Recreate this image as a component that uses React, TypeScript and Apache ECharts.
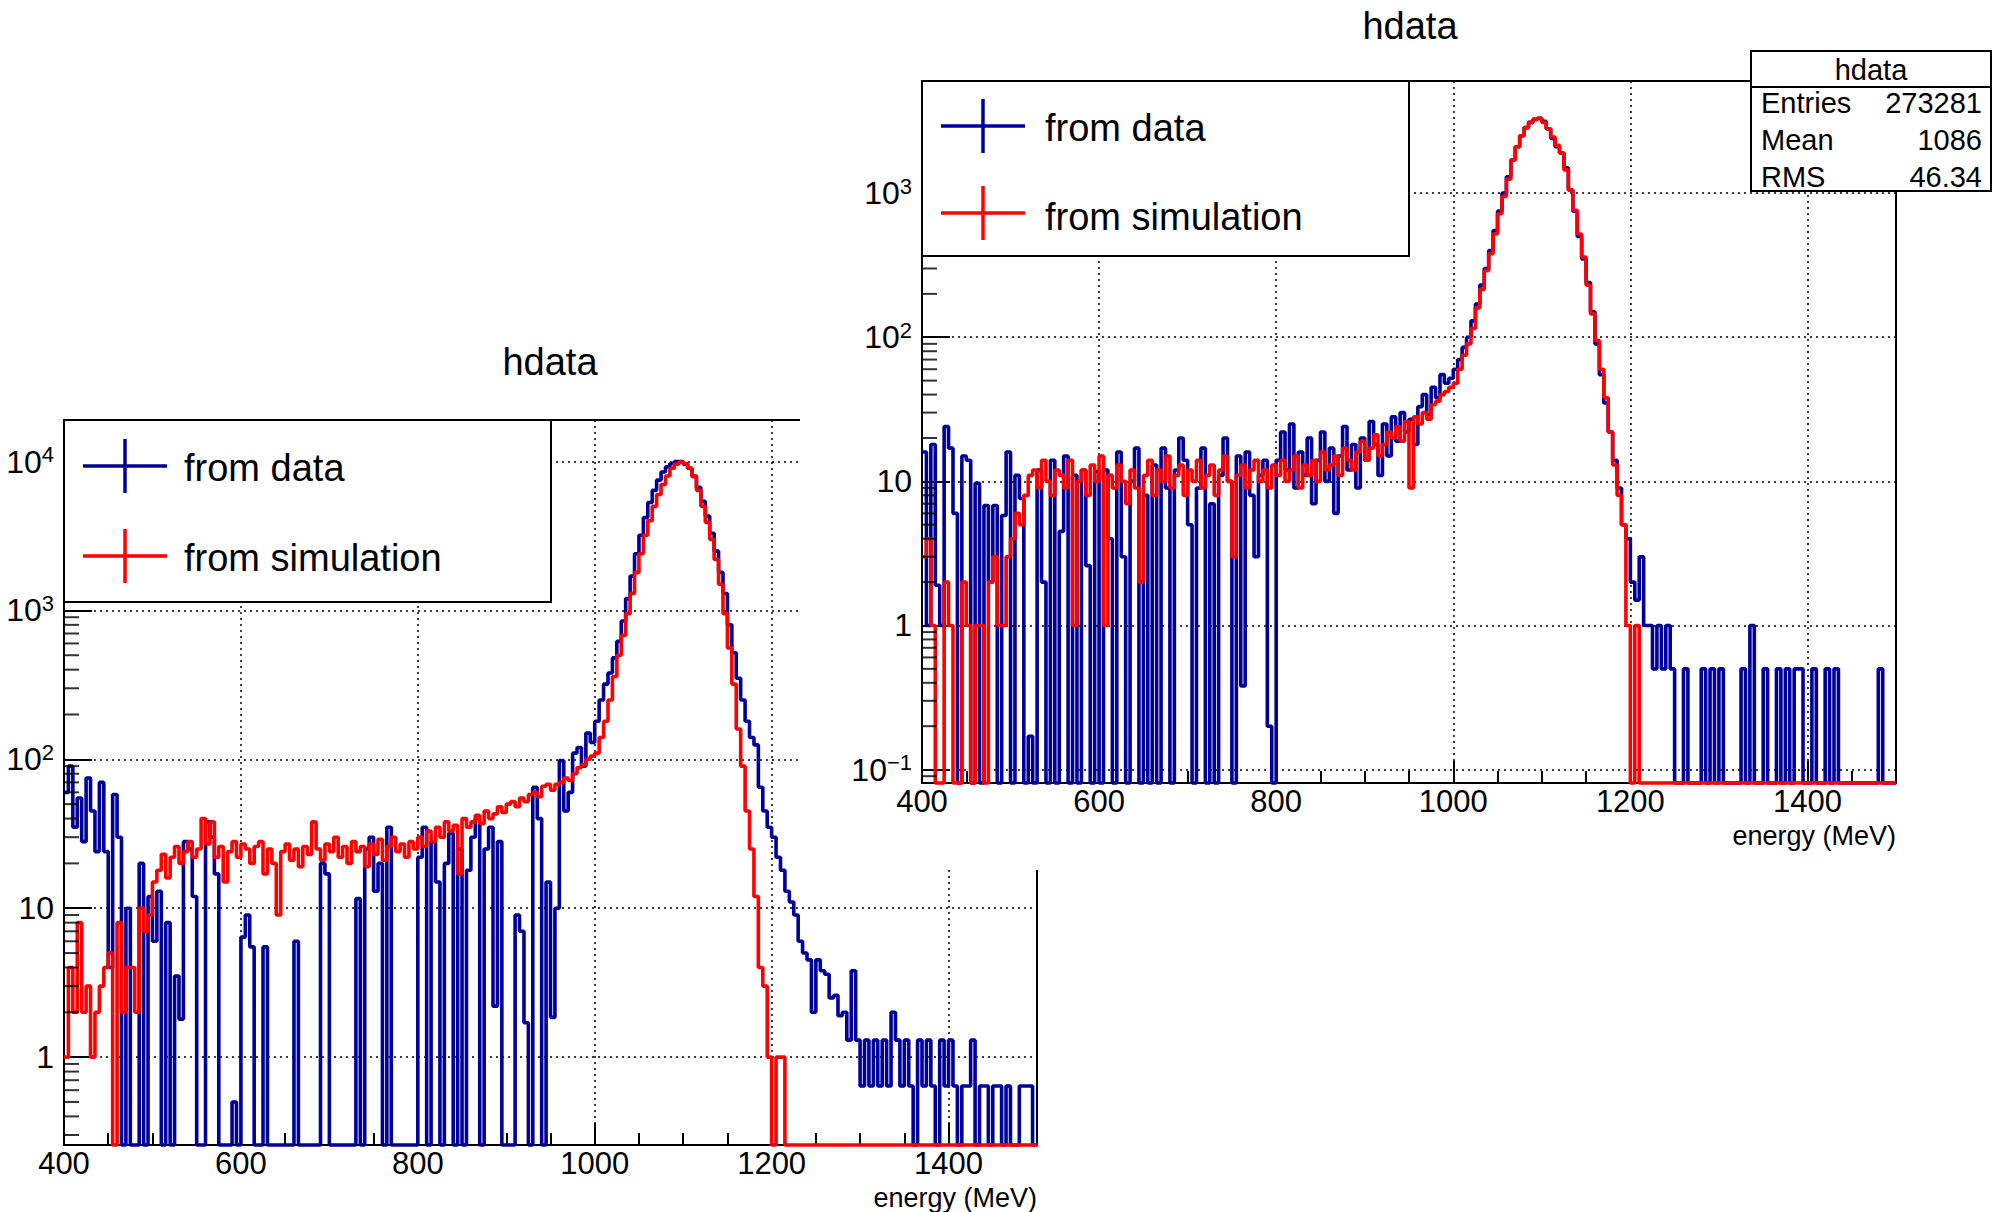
import React, { useEffect, useRef } from "react";
import * as echarts from "echarts";

// ---------------- data (5 MeV bins from 400 to 1500 MeV) ----------------
const BIN_START = 400;
const BIN_WIDTH = 5;
const X_MIN = 400;
const X_MAX = 1500;
const X_MAJOR = 200;
const X_MINOR = 50;

// left canvas: "from data"
const LEFT_DATA = [
  60, 90, 35, 55, 28, 75, 45, 24, 70, 24, 4, 58, 30, 0, 10, 0, 0, 20, 0, 12,
  6, 13, 0, 8, 0, 3.5, 1.8, 28, 25, 12, 0, 0, 38, 30, 17, 0, 0, 0, 0.5, 0,
  6.4, 9, 5.5, 0, 0, 5.5, 0, 0, 0, 0, 0, 0, 6, 0, 0, 0, 0, 0, 20, 17,
  0, 0, 0, 0, 0, 0, 11.6, 0, 25, 30, 13, 20, 0, 35, 0, 0, 0, 0, 0, 0,
  22, 35, 0, 28, 15, 0, 20, 32, 0, 25, 0, 18, 30, 40, 0, 25, 35, 2.2, 28, 0,
  0, 0, 9, 7, 1.7, 0, 65, 40, 0, 15, 1.85, 10, 98, 45, 60, 110, 120, 90, 150, 130,
  180, 250, 320, 380, 480, 620, 850, 1200, 1700, 2400, 3200, 4200, 5300, 6400, 7500, 8500, 9200, 9700, 10000, 10000,
  9600, 9000, 8000, 6700, 5400, 4300, 3300, 2500, 1800, 1300, 800, 520, 350, 250, 180, 140, 125, 65, 45, 35,
  30, 22, 18, 13, 11, 9, 6, 5, 4.5, 2, 4.5, 3.8, 3.6, 2.5, 2.6, 1.9, 2, 1.3, 3.8, 1.3,
  0.64, 1.3, 0.64, 1.3, 0.64, 1.3, 0.64, 2, 1.3, 0.64, 1.3, 0.64, 0, 1.3, 0.64, 1.3, 0.64, 0, 1.3, 0.64,
  1.3, 0.64, 0, 0.64, 0.64, 1.3, 0, 0.64, 0.64, 0, 0.64, 0.64, 0, 0.64, 0, 0, 0.64, 0.64, 0.64, 0,
];

// left canvas: "from simulation"
const LEFT_SIM = [
  1, 4, 2, 8, 2, 3, 1, 2, 3, 4, 5, 0, 8, 2, 4, 4, 2, 10, 7, 9,
  15, 18, 23, 16, 22, 26, 20, 24, 28, 22, 25, 40, 27, 38, 22, 26, 15, 24, 28, 22,
  27, 25, 20, 26, 28, 17, 25, 20, 9, 24, 27, 21, 25, 19, 26, 23, 38, 25, 21, 27,
  24, 30, 22, 26, 20, 28, 24, 26, 19, 27, 23, 29, 21, 26, 30, 24, 27, 22, 28, 25,
  30, 26, 33, 28, 35, 30, 38, 33, 36, 17, 40, 35, 38, 42, 37, 45, 40, 43, 48, 44,
  50, 52, 48, 55, 52, 58, 60, 56, 66, 68, 62, 68, 70, 75, 72, 80, 88, 92, 100, 105,
  110, 140, 180, 250, 360, 500, 680, 950, 1300, 1800, 2400, 3200, 4000, 5000, 6000, 7000, 8000, 9000, 9600, 9900,
  9700, 9000, 7900, 6400, 5000, 3900, 3000, 2200, 1500, 950, 560, 320, 160, 90, 45, 25, 12, 4, 3, 1,
  0, 1, 1, 0, 0, 0, 0, 0, 0, 0, 0, 0, 0, 0, 0, 0, 0, 0, 0, 0,
  0, 0, 0, 0, 0, 0, 0, 0, 0, 0, 0, 0, 0, 0, 0, 0, 0, 0, 0, 0,
  0, 0, 0, 0, 0, 0, 0, 0, 0, 0, 0, 0, 0, 0, 0, 0, 0, 0, 0, 0,
];

// right canvas: "from data"
const RIGHT_DATA = [
  16, 1, 18, 1.9, 1, 24, 17, 6, 0, 15, 14, 0, 9.7, 0, 6.8, 2, 6.8, 0, 5.8, 16,
  0, 11, 7.6, 0, 0.17, 0, 12, 2, 0, 14, 0, 4.5, 15, 0, 11, 0, 12, 2.6, 0, 11.7,
  0, 12, 4, 0, 16, 3, 0, 10, 17, 0, 8, 0, 13, 0, 17, 9, 0, 12, 20, 14,
  5, 0, 9, 17, 0, 7, 0, 11, 20, 10, 0, 15, 0.38, 16, 8, 3, 11, 14, 0.2, 0,
  14, 22, 12, 25, 9, 16, 11, 20, 7, 14, 22, 10, 17, 6, 15, 24, 12, 18, 9, 20,
  14, 26, 18, 11, 25, 15, 28, 19, 30, 22, 27, 18, 33, 40, 29, 45, 38, 55, 48, 52,
  60, 70, 85, 100, 130, 170, 230, 300, 400, 550, 750, 1000, 1300, 1700, 2100, 2500, 2850, 3100, 3250, 3300,
  3150, 2800, 2400, 2100, 1900, 1500, 1050, 750, 500, 350, 240, 150, 90, 55, 35, 22, 14, 9, 5, 4,
  2, 1.5, 3, 1, 1, 0.5, 1, 0.5, 1, 0.5, 0, 0, 0.5, 0, 0, 0, 0.5, 0, 0.5, 0,
  0.5, 0, 0, 0, 0, 0.5, 0, 1, 0, 0, 0.5, 0, 0, 0.5, 0, 0.5, 0, 0.5, 0.5, 0,
  0, 0.5, 0, 0, 0.5, 0, 0.5, 0, 0, 0, 0, 0, 0, 0, 0, 0, 0.5, 0, 0, 0,
];

// right canvas: "from simulation"
const RIGHT_SIM = [
  3, 4, 1, 0, 0, 2, 1, 0, 0, 2, 1, 0, 1, 1, 0, 2, 3, 1, 1, 3,
  4, 6, 5, 8, 11, 12, 9, 14, 10, 8, 12, 11, 9, 14, 1, 10, 12, 8, 13, 10,
  15, 1, 11, 9, 13, 10, 7, 12, 9, 2, 11, 14, 8, 12, 10, 15, 9, 11, 13, 8,
  12, 10, 14, 9, 11, 13, 8, 12, 15, 10, 3, 11, 13, 9, 12, 14, 10, 12, 9, 13,
  11, 14, 10, 12, 15, 9, 13, 11, 14, 10, 16, 12, 13, 15, 11, 17, 14, 12, 16, 19,
  14, 17, 21, 15, 18, 22, 20, 24, 19, 26, 9, 28, 25, 30, 27, 34, 36, 40, 42, 45,
  48, 60, 75, 90, 115, 160, 215, 290, 380, 520, 720, 950, 1250, 1700, 2100, 2500, 2850, 3100, 3250, 3300,
  3100, 2800, 2450, 2150, 1900, 1450, 1050, 760, 520, 360, 230, 145, 95, 60, 38, 22, 13, 8, 5, 1,
  0, 1, 0, 0, 0, 0, 0, 0, 0, 0, 0, 0, 0, 0, 0, 0, 0, 0, 0, 0,
  0, 0, 0, 0, 0, 0, 0, 0, 0, 0, 0, 0, 0, 0, 0, 0, 0, 0, 0, 0,
  0, 0, 0, 0, 0, 0, 0, 0, 0, 0, 0, 0, 0, 0, 0, 0, 0, 0, 0, 0,
];

const TITLE = "hdata";
const X_TITLE = "energy (MeV)";
const LEGEND_LABELS = ["from data", "from simulation"];
const STATS_TITLE = "hdata";
const STATS_NAMES = ["Entries", "Mean", "RMS"];
const STATS_VALUES = ["273281", "1086", "46.34"];
const MINOR_LOG = [2, 3, 4, 5, 6, 7, 8, 9];

// ---------------- styles ----------------
const FONT = '"Liberation Sans", Arial, Helvetica, sans-serif';
const BLUE = "#000099";
const RED = "#ff0000";
const BLACK = "#000000";
const HIST_WIDTH = 3.6;

function stepData(vals: number[], floor: number): number[][] {
  const pts: number[][] = [];
  for (let i = 0; i < vals.length; i++) {
    pts.push([BIN_START + i * BIN_WIDTH, vals[i] > 0 ? vals[i] : floor]);
  }
  const last = vals[vals.length - 1];
  pts.push([BIN_START + vals.length * BIN_WIDTH, last > 0 ? last : floor]);
  return pts;
}

function minorTicks(min: number, max: number): number[][] {
  const out: number[][] = [];
  for (let e = -3; e <= 6; e++) {
    for (const k of MINOR_LOG) {
      const v = k * Math.pow(10, e);
      if (v > min && v < max) out.push([X_MIN, v]);
    }
  }
  return out;
}

function logLabel(v: number): string {
  const e = Math.log10(v);
  const n = Math.round(e);
  if (Math.abs(e - n) > 1e-6) return "";
  if (n === 0) return "1";
  if (n === 1) return "10";
  return `{b|10}{s|${n < 0 ? "\u2212" + Math.abs(n) : n}}`;
}

function txt(text: string, x: number, y: number, size: number, align: string, vAlign: string = "middle") {
  return {
    type: "text",
    x,
    y,
    z: 101,
    style: {
      text,
      fill: BLACK,
      fontSize: size,
      fontFamily: FONT,
      textAlign: align,
      textVerticalAlign: vAlign,
      align,
      verticalAlign: vAlign,
    },
  };
}

function seg(x1: number, y1: number, x2: number, y2: number, color: string, w: number) {
  return {
    type: "line",
    z: 101,
    shape: { x1, y1, x2, y2 },
    style: { stroke: color, lineWidth: w },
  };
}

function legendGraphics(box: { x: number; y: number; w: number; h: number }, crossX: number, y1: number, y2: number, textX: number, ty1: number, ty2: number) {
  const half = 42;
  const vhalf = 27;
  return [
    {
      type: "rect",
      z: 100,
      shape: { x: box.x, y: box.y, width: box.w, height: box.h },
      style: { fill: "#ffffff", stroke: BLACK, lineWidth: 2 },
    },
    seg(crossX - half, y1, crossX + half, y1, BLUE, 3.5),
    seg(crossX, y1 - vhalf, crossX, y1 + vhalf, BLUE, 3.5),
    seg(crossX - half, y2, crossX + half, y2, RED, 3.5),
    seg(crossX, y2 - vhalf, crossX, y2 + vhalf, RED, 3.5),
    txt(LEGEND_LABELS[0], textX, ty1, 38, "left"),
    txt(LEGEND_LABELS[1], textX, ty2, 38, "left"),
  ];
}

interface PanelCfg {
  left: number;
  top: number;
  width: number;
  height: number;
  yMin: number;
  yMax: number;
  data: number[];
  sim: number[];
  graphics: any[];
}

function buildOption(p: PanelCfg): any {
  const lineStyle = { color: BLACK, width: 2 };
  return {
    animation: false,
    grid: {
      left: p.left,
      top: p.top,
      width: p.width,
      height: p.height,
      show: true,
      borderColor: BLACK,
      borderWidth: 2,
      backgroundColor: "transparent",
    },
    xAxis: [
      {
        type: "value",
        min: X_MIN,
        max: X_MAX,
        interval: X_MAJOR,
        position: "bottom",
        axisLine: { show: true, onZero: false, lineStyle },
        axisTick: { show: true, inside: true, length: 22, lineStyle },
        axisLabel: {
          show: true,
          margin: 3,
          color: BLACK,
          fontSize: 31,
          fontFamily: FONT,
          showMaxLabel: false,
          formatter: (v: number) => String(Math.round(v)),
        },
        splitLine: { show: true, lineStyle: { color: BLACK, width: 1.5, type: [2, 4] } },
      },
      {
        type: "value",
        min: X_MIN,
        max: X_MAX,
        interval: X_MINOR,
        position: "bottom",
        axisLine: { show: false },
        axisTick: { show: true, inside: true, length: 12, lineStyle },
        axisLabel: { show: false },
        splitLine: { show: false },
      },
    ],
    yAxis: [
      {
        type: "log",
        logBase: 10,
        min: p.yMin,
        max: p.yMax,
        axisLine: { show: true, onZero: false, lineStyle },
        axisTick: { show: true, inside: true, length: 28, lineStyle },
        axisLabel: {
          show: true,
          margin: 10,
          color: BLACK,
          fontSize: 32,
          fontFamily: FONT,
          showMinLabel: false,
          showMaxLabel: false,
          formatter: logLabel,
          rich: {
            b: { fontSize: 32, lineHeight: 36, fontFamily: FONT, color: BLACK },
            s: { fontSize: 22, fontFamily: FONT, color: BLACK, verticalAlign: "top" },
          },
        },
        splitLine: { show: true, lineStyle: { color: BLACK, width: 1.5, type: [2, 4] } },
      },
    ],
    series: [
      {
        type: "line",
        name: LEGEND_LABELS[0],
        data: stepData(p.data, p.yMin),
        step: "end",
        showSymbol: false,
        symbol: "none",
        clip: false,
        lineStyle: { color: BLUE, width: HIST_WIDTH },
        itemStyle: { color: BLUE },
        z: 2,
      },
      {
        type: "line",
        name: LEGEND_LABELS[1],
        data: stepData(p.sim, p.yMin),
        step: "end",
        showSymbol: false,
        symbol: "none",
        clip: false,
        lineStyle: { color: RED, width: HIST_WIDTH },
        itemStyle: { color: RED },
        z: 3,
      },
      {
        type: "scatter",
        data: minorTicks(p.yMin, p.yMax),
        symbol: "rect",
        symbolSize: [15, 2],
        symbolOffset: [7.5, 0],
        itemStyle: { color: BLACK },
        silent: true,
        clip: false,
        z: 4,
      },
    ],
    graphic: { elements: p.graphics },
  };
}

// ---------------- left canvas (page coordinates) ----------------
const leftOption = buildOption({
  left: 64,
  top: 420,
  width: 973,
  height: 725,
  yMin: 0.257,
  yMax: 19000,
  data: LEFT_DATA,
  sim: LEFT_SIM,
  graphics: [
    txt(TITLE, 550, 362, 38, "center"),
    txt(X_TITLE, 1037, 1211, 27, "right", "bottom"),
    ...legendGraphics({ x: 64, y: 420, w: 487, h: 182 }, 125, 466, 556, 184, 468, 558),
  ],
});

// ---------------- right canvas (offset 800px to the right) ----------------
const rightOption = buildOption({
  left: 122,
  top: 81,
  width: 974,
  height: 702,
  yMin: 0.0807,
  yMax: 6000,
  data: RIGHT_DATA,
  sim: RIGHT_SIM,
  graphics: [
    txt(TITLE, 610, 26, 38, "center"),
    txt(X_TITLE, 1096, 836, 27, "right"),
    ...legendGraphics({ x: 122, y: 81, w: 487, h: 175 }, 183, 126, 213, 245, 128, 217),
    {
      type: "rect",
      z: 100,
      shape: { x: 951, y: 51, width: 240, height: 140 },
      style: { fill: "#ffffff", stroke: BLACK, lineWidth: 2 },
    },
    seg(951, 87, 1191, 87, BLACK, 2),
    txt(STATS_TITLE, 1071, 70, 29, "center"),
    ...STATS_NAMES.map((n, i) => txt(n, 961, 103 + i * 37, 29, "left")),
    ...STATS_VALUES.map((v, i) => txt(v, 1182, 103 + i * 37, 29, "right")),
  ],
});

function ChartBox({ option, style }: { option: any; style: React.CSSProperties }) {
  const ref = useRef<HTMLDivElement>(null);
  useEffect(() => {
    if (!ref.current) return;
    const chart = echarts.init(ref.current, undefined, { renderer: "svg" });
    chart.setOption(option);
    return () => chart.dispose();
  }, [option]);
  return <div ref={ref} style={style} />;
}

export default function App() {
  return (
    <div
      style={{
        position: "fixed",
        left: 0,
        top: 0,
        width: 2007,
        height: 1212,
        overflow: "hidden",
        background: "#ffffff",
      }}
    >
      <ChartBox option={leftOption} style={{ position: "absolute", left: 0, top: 0, width: 2007, height: 1212 }} />
      <ChartBox
        option={rightOption}
        style={{ position: "absolute", left: 800, top: 0, width: 1207, height: 870, background: "#ffffff" }}
      />
    </div>
  );
}
